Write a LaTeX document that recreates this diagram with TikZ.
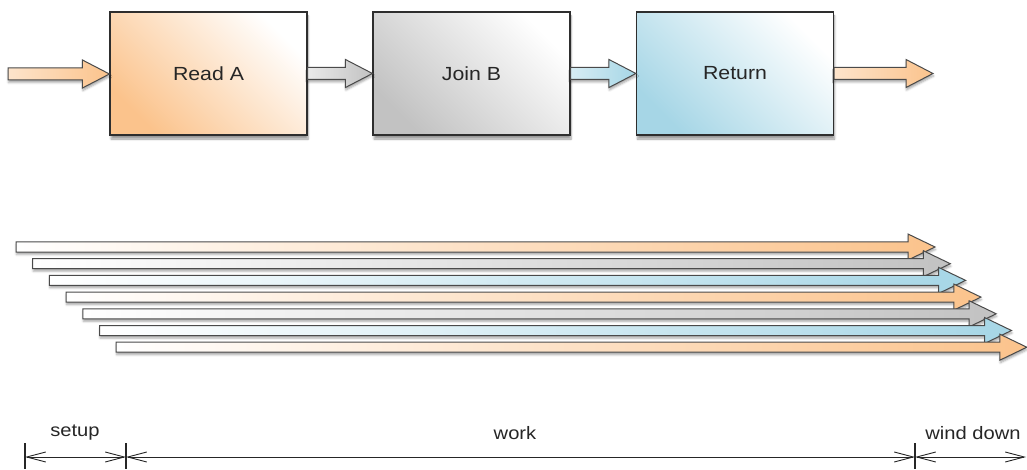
\documentclass[tikz,border=0pt]{standalone}
\usepackage{fontspec}
\setmainfont{Liberation Sans}[FakeStretch=1.12]
\usetikzlibrary{arrows.meta,calc,shadows.blur}
\definecolor{orA}{HTML}{FBC38C}
\definecolor{grA}{HTML}{C2C2C2}
\definecolor{blA}{HTML}{A6D6E6}
\definecolor{edge}{HTML}{2E2E2E}
\definecolor{arredge}{HTML}{4A4A4A}
\newcommand{\blockarr}[7]{%
  % #1 from, #2 to, #3 colour, #4 shaft half, #5 head half, #6 head length, #7 light mix
  \path[blockarrow, left color=#3!#7!white, right color=#3]
    let \p1=(#1), \p2=(#2) in
    (\x1,\y1+#4) -- (\x2-#6,\y1+#4) -- (\x2-#6,\y1+#5) -- (\x2,\y1)
    -- (\x2-#6,\y1-#5) -- (\x2-#6,\y1-#4) -- (\x1,\y1-#4) -- cycle;}
\tikzset{
  box/.style={draw=edge, line width=1.1pt, minimum width=197pt, minimum height=123pt,
    inner sep=0pt, font=\fontsize{19}{22}\selectfont, text=black!85,
    blur shadow={shadow xshift=1pt, shadow yshift=-4pt, shadow opacity=40, shadow blur steps=6}},
  blockarrow/.style={draw=arredge, line width=1pt, line join=miter,
    blur shadow={shadow xshift=0.5pt, shadow yshift=-2.5pt, shadow opacity=35, shadow blur steps=4}},
  dim/.style={draw=black!85, line width=0.9pt},
  lab/.style={font=\fontsize{18}{21}\selectfont, text=black!85, inner sep=0pt}
}
\begin{document}
\begin{tikzpicture}[x=1pt,y=-1pt]
\useasboundingbox (0,0) rectangle (1027,470);
% boxes
\node[box, left color=orA, right color=white, shading angle=135] (A) at (208.5,73.5) {Read A};
\node[box, left color=grA, right color=white, shading angle=135] (B) at (471.5,73.5) {Join B};
\node[box, left color=blA, right color=white, shading angle=135] (C) at (735,73.5) {Return};
\coordinate (in) at (8,74);
\coordinate (out) at (933,74);
% top block arrows
\blockarr{in}{A.west}{orA}{6pt}{14pt}{27pt}{45}
\blockarr{A.east}{B.west}{grA}{6pt}{14pt}{27pt}{35}
\blockarr{B.east}{C.west}{blA}{6pt}{14pt}{27pt}{45}
\blockarr{C.east}{out}{orA}{6pt}{14pt}{27pt}{45}
% long bars
\foreach \i in {0,...,6}{
  \coordinate (s\i) at ({16+16.7*\i},{247+16.7*\i});
  \coordinate (e\i) at ({935+15.3*\i},{247+16.7*\i});
}
\foreach \i/\c in {0/orA,1/grA,2/blA,3/orA,4/grA,5/blA,6/orA}{
  \blockarr{s\i}{e\i}{\c}{5pt}{13pt}{27pt}{0}
}
% dimensions
\coordinate (d0) at (25,457);
\coordinate (d1) at (126,457);
\coordinate (d2) at (915,457);
\coordinate (d3) at (1026,457);
\foreach \d in {d0,d1,d2}{
  \draw[dim, line width=1.1pt] ($(\d)+(0,-14)$) -- ($(\d)+(0,12)$);
}
\draw[dim, {Straight Barb[length=19pt,width=10pt]}-{Straight Barb[length=19pt,width=10pt]}] (d0) -- (d1);
\draw[dim, {Straight Barb[length=19pt,width=10pt]}-{Straight Barb[length=19pt,width=10pt]}] (d1) -- (d2);
\draw[dim, {Straight Barb[length=19pt,width=10pt]}-{Straight Barb[length=19pt,width=10pt]}] (d2) -- (d3);
\node[lab] (ls) at (75,433) {setup};
\node[lab] (lw) at (515,433) {work};
\node[lab] (ld) at (973,433) {wind down};
\end{tikzpicture}
\end{document}
